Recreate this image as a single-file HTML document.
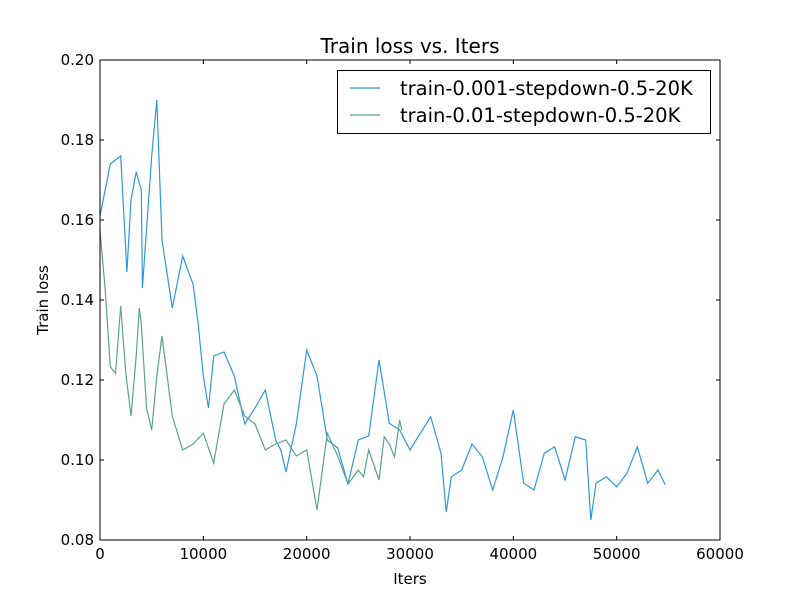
<!DOCTYPE html>
<html><head><meta charset="utf-8"><style>
body{margin:0;background:#fff;font-family:"DejaVu Sans","Liberation Sans",sans-serif}
svg text{font-family:"DejaVu Sans","Liberation Sans",sans-serif}
</style></head><body>
<svg id="chart" width="800" height="600" xmlns="http://www.w3.org/2000/svg">
<rect width="800" height="600" fill="#fff"/>
<text x="410" y="53" font-size="20" text-anchor="middle">Train loss vs. Iters</text>
<g id="plot"></g>
<text x="410" y="584" font-size="15" text-anchor="middle">Iters</text>
<text transform="translate(48,300) rotate(-90)" font-size="15" text-anchor="middle">Train loss</text>
</svg>
<script>
const xTicks=[0,10000,20000,30000,40000,50000,60000];
const yTicks=[0.08,0.10,0.12,0.14,0.16,0.18,0.20];
const seriesNames=["train-0.001-stepdown-0.5-20K","train-0.01-stepdown-0.5-20K"];
const blueIters=[0,1000,2000,2600,3000,3500,4000,4100,5000,5500,6000,7000,8000,8500,9000,9500,10000,10500,11000,12000,13000,14000,15000,16000,17000,17500,18000,19000,20000,21000,22000,23000,24000,25000,26000,27000,28000,29000,30000,31000,32000,33000,33500,34000,35000,36000,37000,38000,39000,40000,41000,42000,43000,44000,45000,46000,47000,47500,48000,49000,50000,51000,52000,53000,54000,54700];
const blueLoss=[0.161,0.174,0.176,0.147,0.165,0.172,0.1675,0.143,0.176,0.19,0.155,0.138,0.151,0.1475,0.144,0.134,0.121,0.113,0.126,0.127,0.121,0.109,0.113,0.1175,0.105,0.1025,0.097,0.109,0.1275,0.121,0.105,0.103,0.094,0.105,0.106,0.125,0.1092,0.1075,0.1025,0.1067,0.1108,0.1017,0.087,0.0958,0.0975,0.104,0.1008,0.0925,0.1008,0.1125,0.0942,0.0925,0.1017,0.1033,0.095,0.1058,0.105,0.085,0.0942,0.0958,0.0933,0.0967,0.1033,0.0942,0.0975,0.0938];
const greenIters=[0,500,1000,1500,2000,2500,3000,3500,3800,4000,4500,5000,5500,6000,7000,8000,9000,10000,11000,12000,13000,14000,15000,16000,17000,18000,19000,20000,21000,22000,23000,24000,25000,25500,26000,27000,27500,28000,28500,29000,29200];
const greenLoss=[0.1575,0.1425,0.1233,0.1217,0.1385,0.1217,0.111,0.126,0.138,0.134,0.113,0.1075,0.121,0.131,0.111,0.1025,0.104,0.1067,0.0992,0.114,0.1175,0.111,0.109,0.1025,0.104,0.105,0.101,0.1025,0.0875,0.1067,0.101,0.094,0.0975,0.0958,0.1025,0.095,0.1058,0.104,0.1008,0.11,0.1075];
const L=100,R=720,T=60,B=540;
const xs=v=>L+(v-0)/60000*(R-L);
const ys=v=>B-(v-0.08)/0.12*(B-T);
const NS="http://www.w3.org/2000/svg";
const g=document.getElementById('plot');
function mk(t,a){const e=document.createElementNS(NS,t);for(const k in a)e.setAttribute(k,a[k]);g.appendChild(e);return e;}
function line(xa,ya,color,name){
  const d=xa.map((x,i)=>(i?'L':'M')+xs(x).toFixed(1)+','+ys(ya[i]).toFixed(1)).join('');
  const p=mk('path',{d:d,fill:'none',stroke:color,'stroke-width':1.2});
  
  
}
line(blueIters,blueLoss,'#2f98dc','series-lr-0.001');
line(greenIters,greenLoss,'#5aa38f','series-lr-0.01');
const frame=mk('rect',{x:L,y:T,width:R-L,height:B-T,fill:'none',stroke:'#000','stroke-width':1});


xTicks.forEach(v=>{
  const x=xs(v);
  mk('line',{x1:x,x2:x,y1:B,y2:B-4,stroke:'#000'});
  mk('line',{x1:x,x2:x,y1:T,y2:T+4,stroke:'#000'});
  const t=mk('text',{x:x,y:B+19,'font-size':15,'text-anchor':'middle'});
  t.textContent=v;
  
  
});
yTicks.forEach(v=>{
  const y=ys(v);
  mk('line',{x1:L,x2:L+4,y1:y,y2:y,stroke:'#000'});
  mk('line',{x1:R,x2:R-4,y1:y,y2:y,stroke:'#000'});
  const t=mk('text',{x:L-6,y:y+5,'font-size':15,'text-anchor':'end'});
  t.textContent=v.toFixed(2);
  
  
});
const lg=mk('rect',{x:337.5,y:70.5,width:373,height:63,fill:'#fff',stroke:'#000','stroke-width':1});


const cols=['#2f98dc','#5aa38f'];
seriesNames.forEach((n,i)=>{
  const y=88+i*27;
  mk('line',{x1:350,x2:380,y1:y,y2:y,stroke:cols[i],'stroke-width':1.2});
  const t=mk('text',{x:400,y:y+7,'font-size':19.5});
  t.textContent=n;
  
  
});
</script>
</body></html>
